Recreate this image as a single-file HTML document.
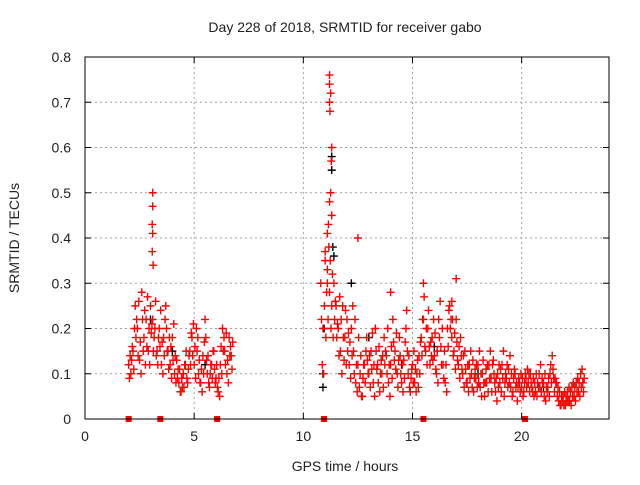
<!DOCTYPE html>
<html><head><meta charset="utf-8"><style>
body{margin:0;background:#fff}
svg text{font-family:"Liberation Sans",Arial,sans-serif;font-size:14px;fill:#222}
svg text.t{font-size:14px}
</style></head><body>
<svg id="chart" width="640" height="480" viewBox="0 0 640 480" xmlns="http://www.w3.org/2000/svg">
<rect width="640" height="480" fill="#fff"/>
<text x="345" y="32" text-anchor="middle">Day 228 of 2018, SRMTID for receiver gabo</text>
<text x="345" y="471" text-anchor="middle">GPS time / hours</text>
<text transform="translate(19,238) rotate(-90)" text-anchor="middle">SRMTID / TECUs</text>
<g id="grid"></g><g id="marks"></g><g id="axes"></g>
</svg>
<script>
const xTicks=[0,5,10,15,20];
const yTicks=[0,0.1,0.2,0.3,0.4,0.5,0.6,0.7,0.8];
const yTickLabels=["0","0.1","0.2","0.3","0.4","0.5","0.6","0.7","0.8"];
const seg1Start=2.0;
const seg1=[[12,9,14],[10,13,16],[15,11,20],[25,18,22],[20,14,26],[13,17,10],[28,22,15],[18,24,12],[22,16,27],[15,20,12],[25,19,21],[22,15,18],[20,26,14],[15,12,18],[20,16,24],[12,17,10],[18,14,22],[25,20,15],[15,11,18],[12,16,9],[18,13,21],[10,14,8],[13,9,11],[8,11,6],[6,9,7],[10,7,12],[12,15,9],[8,11,14],[15,12,19],[18,14,21],[12,16,9],[20,15,18],[10,13,8],[8,11,6],[14,10,17],[22,18,13],[10,14,8],[7,10,12],[12,9,15],[15,11,8],[9,12,7],[6,9,5],[12,16,10],[20,15,18],[15,12,19],[10,13,8],[18,14,16],[14,11,17]];
const seg2Start=10.8;
const seg2=[[30,22,12],[20,10,25],[35,18,28],[30,22,38],[28,35,20],[25,32,18],[30,22,26],[25,18,21],[20,14,27],[15,22,10],[25,18,13],[18,24,12],[22,15,19],[12,17,9],[20,14,25],[15,10,22],[8,12,6],[12,18,7],[10,14,5],[5,9,12],[12,8,15],[18,13,10],[10,14,7],[15,11,19],[8,12,5],[20,15,11],[12,8,16],[6,10,13],[10,14,7],[18,12,15],[14,10,20],[8,12,5],[12,16,9],[22,17,13],[15,11,19],[10,7,13],[18,14,10],[8,12,6],[13,9,17],[20,24,15],[10,14,7],[6,9,11],[12,8,15],[8,11,6],[10,13,7],[14,10,17],[18,14,22],[22,27,16],[15,20,12],[20,24,16],[12,17,14],[18,13,22],[14,19,11],[10,15,8],[22,18,26],[16,12,20],[12,9,15],[8,12,6],[20,16,24],[25,20,22],[18,22,14],[15,19,11],[22,17,13],[12,16,9],[18,14,11],[10,14,7],[15,11,8],[8,12,6],[12,9,15],[10,7,13],[6,9,11],[9,12,7],[12,8,15],[7,10,5],[10,13,8],[5,8,11],[8,12,6],[12,9,15],[9,6,12],[13,10,8],[6,9,4],[10,7,12],[8,11,6],[12,9,15],[5,8,10],[9,12,7],[11,8,14],[7,10,5],[6,9,11],[10,7,8],[4,7,9],[8,6,10],[7,9,5],[6,8,10],[9,7,11],[8,10,6],[10,8,7],[6,9,5],[8,6,10],[5,8,7],[10,7,12],[6,9,8],[8,5,10],[4,7,6],[7,9,5],[10,12,8],[14,11,9],[6,9,8],[8,5,7],[4,6,3],[3,5,4],[5,3,6],[3,5,4],[6,4,7],[4,6,3],[7,5,8],[5,7,4],[8,6,9],[6,8,5],[10,7,11],[8,6,9]];
const spikeTimes=[3.1,3.1,3.08,3.1,3.08,3.12,11.2,11.2,11.25,11.2,11.22,11.3,11.28,11.25,11.2,11.15,11.1,11.3,12.5,11.0,11.1,17.0,14.0,15.5,16.8];
const spikeValues=[0.50,0.47,0.43,0.41,0.37,0.34,0.76,0.74,0.72,0.70,0.68,0.60,0.57,0.50,0.48,0.43,0.41,0.45,0.40,0.37,0.33,0.31,0.28,0.30,0.26];
const blackTimes=[10.9,10.9,10.95,11.3,11.3,11.35,11.4,3.0,4.0,5.5,13.0,14.5,16.0,18.0,21.0,12.2];
const blackValues=[0.07,0.10,0.20,0.58,0.55,0.38,0.36,0.22,0.15,0.12,0.18,0.12,0.16,0.10,0.07,0.30];
const gapTimes=[2.0,3.45,6.05,10.95,15.5,20.15];

const L=85,R=609,T=57,B=419,XMAX=24,YMAX=0.8;
const xs=v=>L+(R-L)*v/XMAX, ys=v=>B-(B-T)*v/YMAX;
const NS="http://www.w3.org/2000/svg";
function mk(tag,attrs,parent){const e=document.createElementNS(NS,tag);for(const k in attrs)e.setAttribute(k,attrs[k]);parent.appendChild(e);return e;}
const grid=document.getElementById('grid'),marks=document.getElementById('marks'),axes=document.getElementById('axes');
xTicks.forEach(t=>{
 const x=xs(t);
 if(t>0){const g=mk('line',{x1:x,y1:T,x2:x,y2:B,stroke:'#a0a0a0','stroke-dasharray':'2,3'},grid);
 
 }
 mk('line',{x1:x,y1:B,x2:x,y2:B-6,stroke:'#000'},axes);
 mk('line',{x1:x,y1:T,x2:x,y2:T+6,stroke:'#000'},axes);
 const tx=mk('text',{x:x,y:B+22,'text-anchor':'middle'},axes);tx.textContent=t;
 
 
});
yTicks.forEach((t,i)=>{
 const y=ys(t);
 if(t>0&&t<YMAX){const g=mk('line',{x1:L,y1:y,x2:R,y2:y,stroke:'#a0a0a0','stroke-dasharray':'2,3'},grid);
 
 }
 mk('line',{x1:L,y1:y,x2:L+6,y2:y,stroke:'#000'},axes);
 mk('line',{x1:R,y1:y,x2:R-6,y2:y,stroke:'#000'},axes);
 const tx=mk('text',{x:L-14,y:y+5,'text-anchor':'end'},axes);tx.textContent=yTickLabels[i];
 
 
});
const frame=mk('rect',{x:L,y:T,width:R-L,height:B-T,fill:'none',stroke:'#000'},axes);


function plus(t,v,color,name){
 const x=xs(t),y=ys(v);
 const p=mk('path',{d:`M${x-4},${y}h8M${x},${y-4}v8`,stroke:color,'stroke-width':1.4,fill:'none'},marks);
 
 
}
blackTimes.forEach((t,i)=>plus(t,blackValues[i],'#000','black-point'));
function drawSeg(start,seg){
 seg.forEach((vals,i)=>{vals.forEach((v,k)=>plus(start+i*0.1+k*0.033,v/100,'#f00','red-point'));});
}
drawSeg(seg1Start,seg1);drawSeg(seg2Start,seg2);
spikeTimes.forEach((t,i)=>plus(t,spikeValues[i],'#f00','red-point'));
gapTimes.forEach(t=>{
 const r=mk('rect',{x:xs(t)-3,y:B-3,width:6,height:6,fill:'#f00'},marks);
 
 
});
</script>
</body></html>
